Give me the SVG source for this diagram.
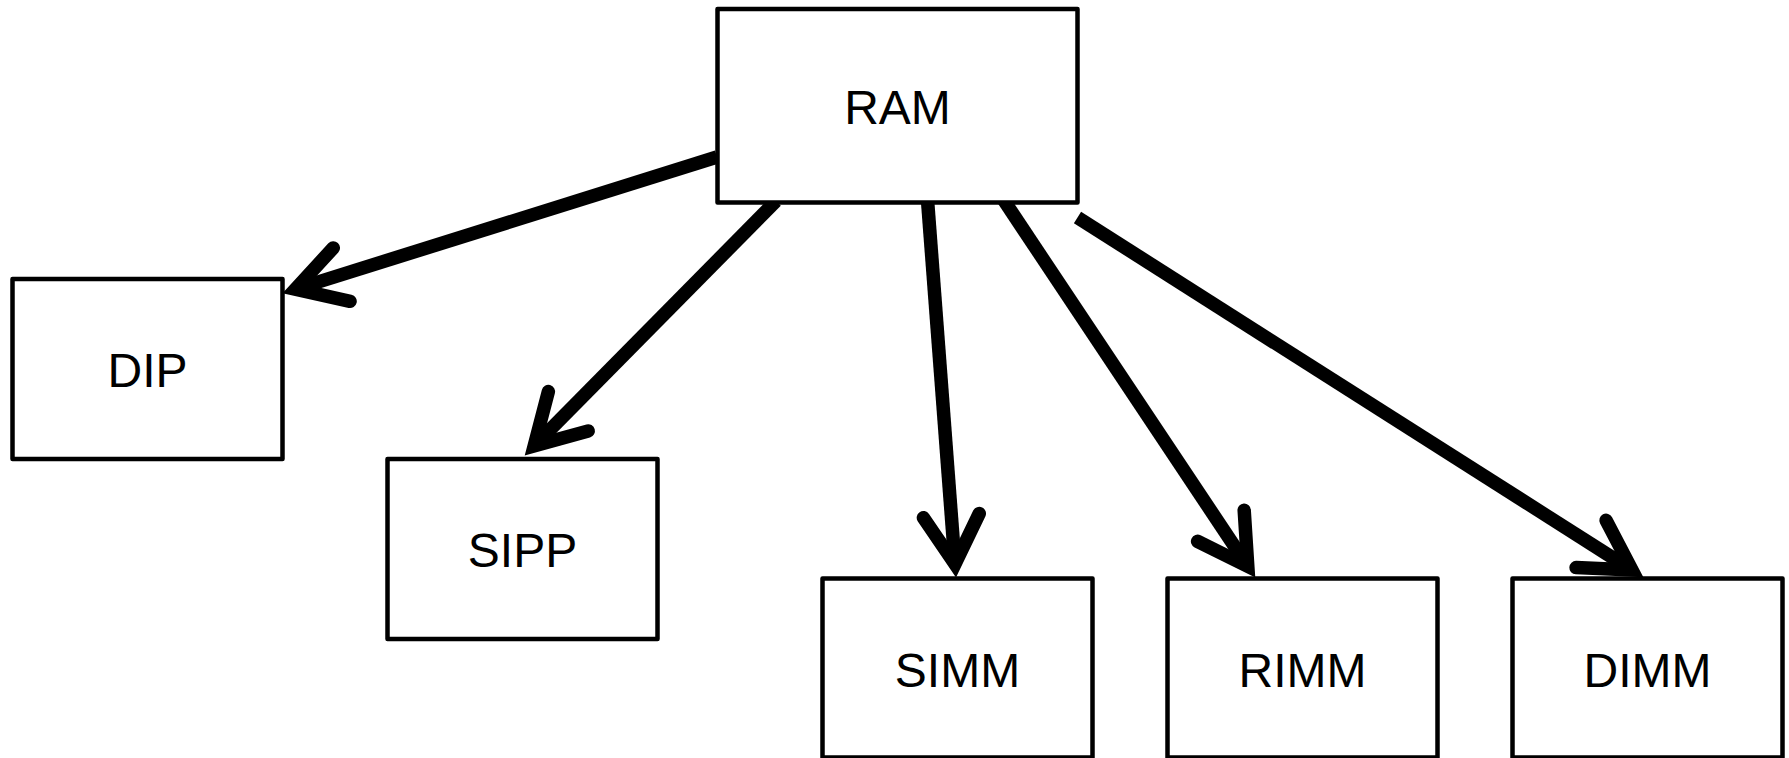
<svg xmlns="http://www.w3.org/2000/svg" width="1789" height="758" viewBox="0 0 1789 758">
<style>
.box{fill:#fff;stroke:#000;stroke-width:4.5;stroke-linejoin:round}
.lbl{font-family:"Liberation Sans",Arial,sans-serif;font-size:48px;fill:#000;text-anchor:middle}
.edge{fill:none;stroke:#000;stroke-width:13.5;stroke-linecap:butt}
</style>
<defs>
<marker id="vhead" markerUnits="userSpaceOnUse" orient="auto" refX="0" refY="0" markerWidth="140" markerHeight="140" viewBox="-70 -70 140 140" overflow="visible">
<path d="M -48.5,-28 L 0,0 L -48.5,28" fill="none" stroke="#000" stroke-width="13.5" stroke-linecap="round" stroke-linejoin="miter" stroke-miterlimit="4"/>
</marker>
</defs>
<g id="connectors">
<line class="edge" x1="717" y1="157" x2="295.4" y2="289.1" marker-end="url(#vhead)"/>
<line class="edge" x1="776" y1="201" x2="534.2" y2="445.8" marker-end="url(#vhead)"/>
<line class="edge" x1="927.5" y1="200" x2="955" y2="564" marker-end="url(#vhead)"/>
<line class="edge" x1="1003" y1="199" x2="1247.8" y2="566.2" marker-end="url(#vhead)"/>
<line class="edge" x1="1077.5" y1="217.5" x2="1632" y2="570" marker-end="url(#vhead)"/>
</g>
<g id="node-ram">
<rect class="box" x="717.5" y="9" width="360" height="193.5"/>
<text class="lbl" x="897.5" y="124">RAM</text>
</g>
<g id="node-dip">
<rect class="box" x="12.5" y="279" width="270" height="180"/>
<text class="lbl" x="147.5" y="387">DIP</text>
</g>
<g id="node-sipp">
<rect class="box" x="387.5" y="459" width="270" height="180"/>
<text class="lbl" x="522.5" y="567">SIPP</text>
</g>
<g id="node-simm">
<rect class="box" x="822.5" y="578.5" width="270" height="179"/>
<text class="lbl" x="957.5" y="687">SIMM</text>
</g>
<g id="node-rimm">
<rect class="box" x="1167.5" y="578.5" width="270" height="179"/>
<text class="lbl" x="1302.5" y="687">RIMM</text>
</g>
<g id="node-dimm">
<rect class="box" x="1512.5" y="578.5" width="270" height="179"/>
<text class="lbl" x="1647.5" y="687">DIMM</text>
</g>
</svg>
